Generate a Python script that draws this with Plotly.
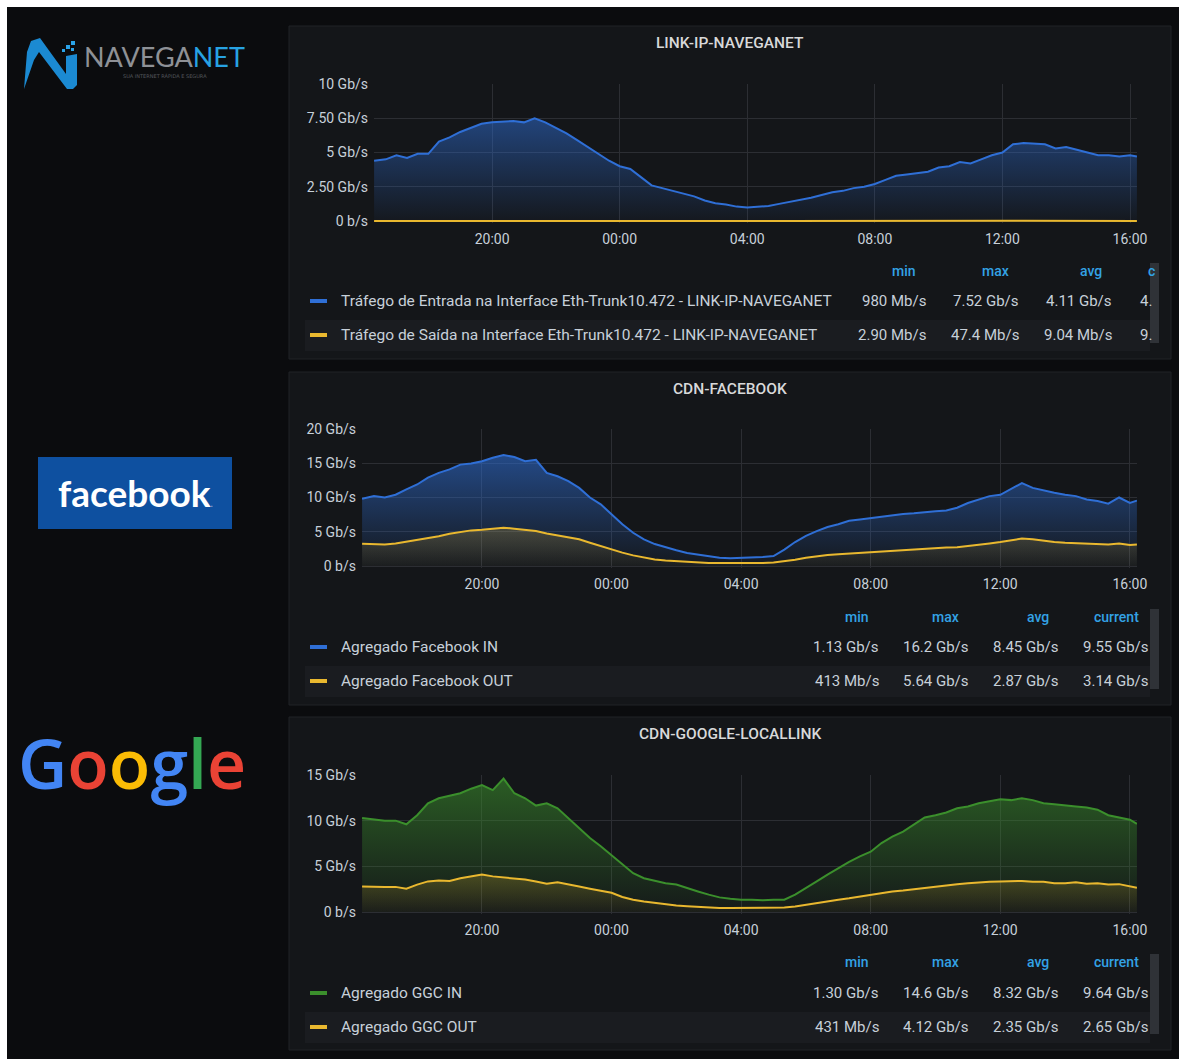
import plotly.graph_objects as go
import pandas as pd

W, H = 1179, 1059

# ---------------- data ----------------
TIMES = (["2024-03-01 16:18"]
         + [t.strftime("%Y-%m-%d %H:%M") for t in pd.date_range("2024-03-01 16:40", "2024-03-02 16:00", freq="20min")]
         + ["2024-03-02 16:13"])

# LINK-IP-NAVEGANET (Gb/s)
NAV_IN = [4.4, 4.5,
          4.8, 4.6, 4.9,  4.9, 5.8, 6.1,  6.5, 6.8, 7.1,  7.2, 7.25, 7.3,  7.2, 7.5, 7.2,
          6.8, 6.4, 5.9,  5.4, 4.9, 4.4,  4.0, 3.8, 3.2,  2.6, 2.4, 2.2,  2.0, 1.8, 1.5,
          1.3, 1.2, 1.05, 0.98, 1.05, 1.1, 1.25, 1.4, 1.5, 1.7, 1.9, 2.1,  2.2, 2.4, 2.5,
          2.7, 3.0, 3.3,  3.4, 3.5, 3.6,  3.9, 4.0, 4.3,  4.2, 4.5, 4.8,  5.0, 5.6, 5.7,
          5.65, 5.6, 5.3, 5.4, 5.2, 5.0,  4.8, 4.8, 4.7,
          4.8, 4.7]
NAV_OUT = [0.009, 0.010,
           0.011, 0.012, 0.012, 0.013, 0.014, 0.015, 0.016, 0.017, 0.018, 0.018, 0.019, 0.020,
           0.019, 0.018, 0.017, 0.016, 0.015, 0.013, 0.012, 0.011, 0.010, 0.009, 0.008, 0.007,
           0.006, 0.005, 0.005, 0.004, 0.004, 0.003, 0.003, 0.003, 0.003, 0.003, 0.003, 0.004,
           0.004, 0.005, 0.005, 0.006, 0.006, 0.007, 0.007, 0.008, 0.047, 0.008, 0.009, 0.009,
           0.009, 0.010, 0.010, 0.010, 0.011, 0.011, 0.011, 0.012, 0.012, 0.012, 0.013, 0.012,
           0.012, 0.012, 0.011, 0.011, 0.011, 0.010, 0.010, 0.010, 0.009,
           0.009, 0.009]

# CDN-FACEBOOK (Gb/s)
FB_IN = [9.8, 10.2,
         10.0, 10.4, 11.2,  11.9, 12.9, 13.6,  14.1, 14.8, 14.95,  15.3, 15.8, 16.2,  15.9, 15.3, 15.5,
         13.6, 13.1, 12.4,  11.4, 10.0, 9.0,  7.5, 6.1, 4.85,  3.9, 3.2, 2.7,  2.3, 1.9, 1.7,
         1.45, 1.2, 1.13,  1.15, 1.2, 1.3,  1.45, 2.4, 3.5,  4.4, 5.1, 5.7,  6.1, 6.6, 6.8,
         7.0, 7.3, 7.5,  7.6, 7.7, 7.9,  8.0, 8.1, 8.5,  9.2, 9.7, 10.2,  10.4, 11.2, 12.1,
         11.4, 11.0, 10.7,  10.4, 10.2, 9.7,  9.5, 9.1, 10.0,
         9.2, 9.55]
FB_OUT = [3.25, 3.15,
          3.15, 3.3, 3.55,  3.75, 4.0, 4.35,  4.7, 5.0, 5.2,  5.3, 5.45, 5.6,  5.45, 5.25, 5.1,
          4.75, 4.45, 4.2,  3.9, 3.4, 2.9,  2.4, 1.95, 1.55,  1.2, 0.95, 0.8,  0.7, 0.55, 0.45,
          0.42, 0.42, 0.41,  0.42, 0.42, 0.45,  0.5, 0.65, 0.9,  1.2, 1.45, 1.6,  1.7, 1.8, 1.9,
          2.05, 2.2, 2.3,  2.4, 2.45, 2.5,  2.6, 2.7, 2.75,  2.9, 3.15, 3.3,  3.5, 3.75, 4.0,
          3.9, 3.65, 3.5,  3.4, 3.35, 3.25,  3.2, 3.15, 3.3,
          3.05, 3.14]

# CDN-GOOGLE-LOCALLINK (Gb/s)
GGC_IN = [10.3, 10.15,
          10.0, 10.0, 9.6,  10.6, 11.9, 12.45,  12.7, 13.0, 13.5,  13.9, 13.35, 14.6,  13.0, 12.45, 11.65,
          11.9, 11.35, 10.25,  9.2, 8.1, 7.2,  6.25, 5.2, 4.25,  3.7, 3.4, 3.15,  3.0, 2.6, 2.25,
          1.9, 1.6, 1.45,  1.35, 1.35, 1.3,  1.35, 1.35, 1.9,  2.6, 3.35, 4.1,  4.8, 5.5, 6.1,
          6.6, 7.55, 8.25,  8.8, 9.55, 10.35,  10.6, 10.9, 11.35,  11.55, 11.9, 12.15,  12.35, 12.25, 12.45,
          12.25, 11.9, 11.8,  11.65, 11.55, 11.45,  11.2, 10.6, 10.35,
          10.1, 9.64]
GGC_OUT = [2.8, 2.75,
           2.75, 2.75, 2.55,  3.0, 3.35, 3.45,  3.4, 3.7, 3.9,  4.1, 3.9, 3.8,  3.7, 3.55, 3.35,
           3.1, 3.25, 3.05,  2.8, 2.55, 2.35,  2.1, 1.65, 1.35,  1.15, 1.0, 0.8,  0.7, 0.62, 0.55,
           0.5, 0.45, 0.44,  0.44, 0.43, 0.45,  0.47, 0.5, 0.6,  0.8, 0.95, 1.15,  1.35, 1.5, 1.7,
           1.9, 2.1, 2.25,  2.35, 2.5, 2.6,  2.8, 2.9, 3.05,  3.15, 3.25, 3.3,  3.35, 3.35, 3.4,
           3.3, 3.3, 3.15,  3.15, 3.25, 3.1,  3.15, 3.0, 3.05,
           2.8, 2.65]

for arr in (NAV_IN, NAV_OUT, FB_IN, FB_OUT, GGC_IN, GGC_OUT):
    assert len(arr) == len(TIMES), (len(arr), len(TIMES))

NAV_YTICKS = [0, 2.5, 5, 7.5, 10]
NAV_YLABELS = ["0 b/s", "2.50 Gb/s", "5 Gb/s", "7.50 Gb/s", "10 Gb/s"]
FB_YTICKS = [0, 5, 10, 15, 20]
FB_YLABELS = ["0 b/s", "5 Gb/s", "10 Gb/s", "15 Gb/s", "20 Gb/s"]
GGC_YTICKS = [0, 5, 10, 15]
GGC_YLABELS = ["0 b/s", "5 Gb/s", "10 Gb/s", "15 Gb/s"]

NAV_NAMES = ["Tráfego de Entrada na Interface Eth-Trunk10.472 - LINK-IP-NAVEGANET",
             "Tráfego de Saída na Interface Eth-Trunk10.472 - LINK-IP-NAVEGANET"]
FB_NAMES = ["Agregado Facebook IN", "Agregado Facebook OUT"]
GGC_NAMES = ["Agregado GGC IN", "Agregado GGC OUT"]

NAV_HEADERS = ["min", "max", "avg", "c"]
FULL_HEADERS = ["min", "max", "avg", "current"]
NAV_STATS = [["980 Mb/s", "7.52 Gb/s", "4.11 Gb/s", "4."],
             ["2.90 Mb/s", "47.4 Mb/s", "9.04 Mb/s", "9."]]
FB_STATS = [["1.13 Gb/s", "16.2 Gb/s", "8.45 Gb/s", "9.55 Gb/s"],
            ["413 Mb/s", "5.64 Gb/s", "2.87 Gb/s", "3.14 Gb/s"]]
GGC_STATS = [["1.30 Gb/s", "14.6 Gb/s", "8.32 Gb/s", "9.64 Gb/s"],
             ["431 Mb/s", "4.12 Gb/s", "2.35 Gb/s", "2.65 Gb/s"]]

# ---------------- styling ----------------
BG = "#0b0c0e"
PANEL = "#141619"
PANEL_BORDER = "#202226"
ROWBAND = "#1a1c20"
GRID = "#2c2e33"
TXT = "#c7d0d9"
HEAD = "#33a2e5"
BLUE = "#2f6fd6"
YELLOW = "#e9b82f"
GREEN = "#3b8f2c"
FONT = "Roboto"


def fx(px):
    return px / W


def fy(py):
    return 1 - py / H


fig = go.Figure()
shapes = []
annotations = []

# white strips at top/left (edge of the original screenshot)
shapes.append(dict(type="rect", xref="paper", yref="paper", x0=0, x1=1, y0=fy(7), y1=1,
                   fillcolor="white", line_width=0, layer="below"))
shapes.append(dict(type="rect", xref="paper", yref="paper", x0=0, x1=fx(7), y0=0, y1=1,
                   fillcolor="white", line_width=0, layer="below"))

panels = [
    dict(title="LINK-IP-NAVEGANET", top=26, bottom=359, left=374, ytop=84, yzero=221,
         ymax=10, ticks=NAV_YTICKS, labels=NAV_YLABELS,
         series=[(NAV_IN, BLUE, "rgba(47,111,214,0.03)", "rgba(47,111,214,0.52)"),
                 (NAV_OUT, YELLOW, "rgba(233,184,47,0.05)", "rgba(233,184,47,0.3)")],
         names=NAV_NAMES, headers=NAV_HEADERS, stats=NAV_STATS,
         cols=[928, 1021, 1114, 1138], head_y=271, row_y=[301, 335]),
    dict(title="CDN-FACEBOOK", top=372, bottom=705, left=362, ytop=429, yzero=566,
         ymax=20, ticks=FB_YTICKS, labels=FB_YLABELS,
         series=[(FB_IN, BLUE, "rgba(47,111,214,0.03)", "rgba(47,111,214,0.58)"),
                 (FB_OUT, YELLOW, "rgba(233,184,47,0.03)", "rgba(233,184,47,0.22)")],
         names=FB_NAMES, headers=FULL_HEADERS, stats=FB_STATS,
         cols=[881, 971, 1061, 1151], head_y=617, row_y=[647, 681]),
    dict(title="CDN-GOOGLE-LOCALLINK", top=717, bottom=1050, left=362, ytop=775, yzero=912,
         ymax=15, ticks=GGC_YTICKS, labels=GGC_YLABELS,
         series=[(GGC_IN, GREEN, "rgba(59,143,44,0.03)", "rgba(59,143,44,0.58)"),
                 (GGC_OUT, YELLOW, "rgba(233,184,47,0.03)", "rgba(233,184,47,0.22)")],
         names=GGC_NAMES, headers=FULL_HEADERS, stats=GGC_STATS,
         cols=[881, 971, 1061, 1151], head_y=962, row_y=[993, 1027]),
]

X_RANGE = ["2024-03-01 16:17:50", "2024-03-02 16:13:10"]
PLOT_RIGHT = 1137

for i, p in enumerate(panels, start=1):
    xa = "x" if i == 1 else f"x{i}"
    ya = "y" if i == 1 else f"y{i}"
    xkey = "xaxis" if i == 1 else f"xaxis{i}"
    ykey = "yaxis" if i == 1 else f"yaxis{i}"

    # panel box
    shapes.append(dict(type="rect", xref="paper", yref="paper",
                       x0=fx(289), x1=fx(1171), y0=fy(p["bottom"]), y1=fy(p["top"]),
                       fillcolor=PANEL, line=dict(color=PANEL_BORDER, width=1), layer="below"))
    # second legend row band
    r2 = p["row_y"][1]
    shapes.append(dict(type="rect", xref="paper", yref="paper",
                       x0=fx(305), x1=fx(1150), y0=fy(r2 + 16), y1=fy(r2 - 15),
                       fillcolor=ROWBAND, line_width=0, layer="below"))
    # scrollbar
    shapes.append(dict(type="rect", xref="paper", yref="paper",
                       x0=fx(1150), x1=fx(1159), y0=fy(p["head_y"] + 72), y1=fy(p["head_y"] - 8),
                       fillcolor="#2f3237", line_width=0, layer="below"))

    pad = p["ymax"] * 2.0 / (p["yzero"] - p["ytop"])
    for vals, col, c0, c1 in p["series"]:
        fig.add_trace(go.Scatter(
            x=TIMES, y=vals, xaxis=xa, yaxis=ya, mode="lines",
            line=dict(color=col, width=2),
            fill="tozeroy",
            fillgradient=dict(type="vertical", colorscale=[[0, c0], [1, c1]],
                              start=0, stop=max(vals)),
            hoverinfo="skip", showlegend=False))

    fig.layout[xkey] = dict(
        domain=[fx(p["left"]), fx(PLOT_RIGHT)], anchor=ya, type="date", range=X_RANGE,
        tickformat="%H:%M", dtick=4 * 3600 * 1000, tick0="2024-03-01 00:00",
        showgrid=True, gridcolor=GRID, gridwidth=1, zeroline=False, showline=False,
        ticks="", ticklabelstandoff=6, tickfont=dict(family=FONT, size=14, color=TXT),
        automargin=False, fixedrange=True)
    fig.layout[ykey] = dict(
        domain=[fy(p["yzero"] + 2), fy(p["ytop"])], anchor=xa, range=[-pad, p["ymax"]],
        tickvals=p["ticks"], ticktext=p["labels"],
        showgrid=True, gridcolor=GRID, gridwidth=1, zeroline=False, showline=False,
        ticks="", ticklabelstandoff=5, tickfont=dict(family=FONT, size=14, color=TXT),
        automargin=False, fixedrange=True)

    # title
    annotations.append(dict(xref="paper", yref="paper", x=fx(730), y=fy(p["top"] + 17),
                            text=p["title"], showarrow=False, xanchor="center", yanchor="middle",
                            font=dict(family=FONT, size=15.5, color="#d8d9da", weight=500)))
    # legend headers
    for cx, htxt in zip(p["cols"], p["headers"]):
        if htxt == "c":
            annotations.append(dict(xref="paper", yref="paper", x=fx(1146), y=fy(p["head_y"]),
                                    text=htxt, showarrow=False, xanchor="left", yanchor="middle",
                                    font=dict(family=FONT, size=14, color=HEAD, weight=500)))
        else:
            annotations.append(dict(xref="paper", yref="paper", x=fx(cx - 10), y=fy(p["head_y"]),
                                    text=htxt, showarrow=False, xanchor="right", yanchor="middle",
                                    font=dict(family=FONT, size=14, color=HEAD, weight=500)))
    # legend rows
    for (vals, col, _, _), name, stats, ry in zip(p["series"], p["names"], p["stats"], p["row_y"]):
        shapes.append(dict(type="rect", xref="paper", yref="paper",
                           x0=fx(310), x1=fx(327), y0=fy(ry + 2), y1=fy(ry - 2),
                           fillcolor=col, line_width=0))
        annotations.append(dict(xref="paper", yref="paper", x=fx(339), y=fy(ry),
                                text=name, showarrow=False, xanchor="left", yanchor="middle",
                                font=dict(family=FONT, size=15.5, color=TXT)))
        for k, (cx, s) in enumerate(zip(p["cols"], stats)):
            clipped = (i == 1 and k == 3)
            annotations.append(dict(xref="paper", yref="paper", x=fx(cx), y=fy(ry),
                                    text=s, showarrow=False,
                                    xanchor="left" if clipped else "right", yanchor="middle",
                                    font=dict(family=FONT, size=15, color=TXT)))

# ---------------- logos ----------------
def path_from(points):
    return "M " + " L ".join(f"{fx(a):.5f},{fy(b):.5f}" for a, b in points) + " Z"

# NAVEGANET stylised N
shapes.append(dict(type="path", xref="paper", yref="paper",
                   path=path_from([(24, 89), (27, 52), (31, 41), (40, 38), (66, 74), (66, 56),
                                   (77, 54), (77, 85), (73, 89), (67, 89), (39, 52), (34, 60)]),
                   fillcolor="#1b8ad2", line_width=0))
for (a, b, c, d) in [(66, 45, 70, 49), (71, 41, 75, 45), (62, 49, 65, 52), (71, 48, 74, 51)]:
    shapes.append(dict(type="rect", xref="paper", yref="paper", x0=fx(a), x1=fx(c),
                       y0=fy(d), y1=fy(b), fillcolor="#2aa3e8", line_width=0))
annotations.append(dict(xref="paper", yref="paper", x=fx(82), y=fy(57),
                        text="NAVEGA<span style='color:#27a3e3'>NET</span>", showarrow=False,
                        xanchor="left", yanchor="middle",
                        font=dict(family="Lato", size=27, color="#8e9196", weight=400)))
annotations.append(dict(xref="paper", yref="paper", x=fx(165), y=fy(76),
                        text="SUA INTERNET RÁPIDA E SEGURA", showarrow=False,
                        xanchor="center", yanchor="middle",
                        font=dict(family="DejaVu Sans", size=5, color="#55585d")))

# facebook
shapes.append(dict(type="rect", xref="paper", yref="paper", x0=fx(38), x1=fx(232),
                   y0=fy(529), y1=fy(457), fillcolor="#0e50a0", line_width=0))
annotations.append(dict(xref="paper", yref="paper", x=fx(135), y=fy(493),
                        text="facebook<span style='font-size:10px;color:#7f9fd0'>.</span>",
                        showarrow=False, xanchor="center", yanchor="middle",
                        font=dict(family="Lato", size=37, color="white", weight=700)))

# Google
annotations.append(dict(xref="paper", yref="paper", x=fx(132), y=fy(762),
                        text=("<span style='color:#4285F4'>G</span>"
                              "<span style='color:#EA4335'>o</span>"
                              "<span style='color:#FBBC05'>o</span>"
                              "<span style='color:#4285F4'>g</span>"
                              "<span style='color:#34A853'>l</span>"
                              "<span style='color:#EA4335'>e</span>"),
                        showarrow=False, xanchor="center", yanchor="middle",
                        font=dict(family="Open Sans", size=68, color="#4285F4", weight=600)))

fig.update_layout(
    width=W, height=H,
    margin=dict(l=0, r=0, t=0, b=0, pad=0, autoexpand=False),
    paper_bgcolor=BG, plot_bgcolor="rgba(0,0,0,0)",
    showlegend=False, hovermode=False,
    shapes=shapes, annotations=annotations,
)

fig.write_html(
    "out.html",
    config={"displayModeBar": False},
    post_script="document.body.style.margin='0';document.body.style.padding='0';"
                "document.body.style.overflow='hidden';",
)
